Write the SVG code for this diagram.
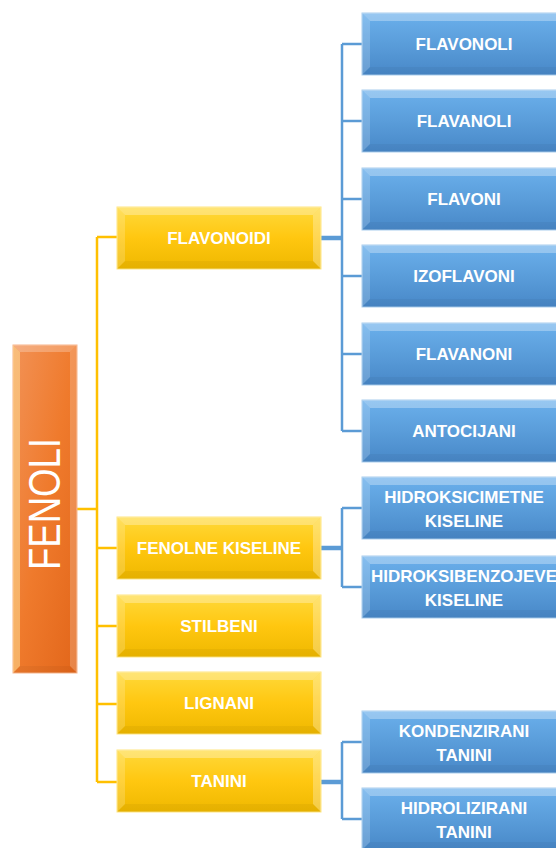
<svg xmlns="http://www.w3.org/2000/svg" xmlns:xlink="http://www.w3.org/1999/xlink" width="556" height="848" viewBox="0 0 556 848">
<defs>
<linearGradient id="gy" x1="0" y1="0" x2="0" y2="1"><stop offset="0" stop-color="#FFD93A"/><stop offset="0.5" stop-color="#FFC710"/><stop offset="1" stop-color="#EFB800"/></linearGradient>
<linearGradient id="gb" x1="0" y1="0" x2="0" y2="1"><stop offset="0" stop-color="#6BB0EC"/><stop offset="0.5" stop-color="#5A9DDA"/><stop offset="1" stop-color="#4888C8"/></linearGradient>
<linearGradient id="go" x1="0" y1="0" x2="1" y2="1"><stop offset="0" stop-color="#F29256"/><stop offset="0.5" stop-color="#EF7A2C"/><stop offset="1" stop-color="#E2661A"/></linearGradient>
<g id="bevel">
<polygon points="0,0 204,0 196,8 8,8" fill="#fff" opacity="0.3"/>
<polygon points="0,0 8,8 8,54 0,62" fill="#fff" opacity="0.18"/>
<polygon points="204,0 204,62 196,54 196,8" fill="#fff" opacity="0.28"/>
<polygon points="0,62 8,54 196,54 204,62" fill="#000" opacity="0.04"/>
</g>
<rect id="ybox" width="204" height="62" fill="url(#gy)" stroke="#FFE680" stroke-width="1"/>
<rect id="bbox" width="204" height="62" fill="url(#gb)" stroke="#A9CDEE" stroke-width="1"/>
</defs>
<style>
.t{font-family:"Liberation Sans",Arial,sans-serif;font-weight:bold;font-size:17px;fill:#fff;text-anchor:middle}
.cy{stroke:#FFC000;stroke-width:2.5;fill:none}
.cb{stroke:#5B9BD5;stroke-width:2.5;fill:none}
.cbt{stroke:#5B9BD5;stroke-width:4.5;fill:none}
</style>
<g id="connectors">
<path class="cy" d="M77,509 H97 M97,237 V782 M97,237 H117 M97,548 H117 M97,626 H117 M97,704 H117 M97,782 H117"/>
<path class="cbt" d="M321,238 H342 M321,548 H342 M321,782 H342"/>
<path class="cb" d="M342,44 V431 M342,44 H362 M342,121 H362 M342,199 H362 M342,276 H362 M342,354 H362 M342,431 H362"/>
<path class="cb" d="M342,508 V587 M342,508 H362 M342,587 H362"/>
<path class="cb" d="M342,742 V819 M342,742 H362 M342,819 H362"/>
</g>
<g id="fenoli">
<rect x="13" y="345" width="64" height="328" fill="url(#go)" stroke="#F7B48A" stroke-width="1"/>
<polygon points="13,345 77,345 70,352 20,352" fill="#fff" opacity="0.25"/>
<polygon points="13,345 20,352 20,666 13,673" fill="#FFE7A0" opacity="0.5"/>
<polygon points="77,345 77,673 70,666 70,352" fill="#fff" opacity="0.2"/>
<polygon points="13,673 20,666 70,666 77,673" fill="#000" opacity="0.04"/>
<text transform="translate(60,504) rotate(-90)" font-family="Liberation Sans,Arial,sans-serif" font-size="44" fill="#fff" text-anchor="middle" textLength="132" lengthAdjust="spacingAndGlyphs">FENOLI</text>
</g>
<g id="flavonoidi" transform="translate(117,207)"><use xlink:href="#ybox"/><use xlink:href="#bevel"/><text class="t" x="102" y="37">FLAVONOIDI</text></g>
<g id="fenolne" transform="translate(117,517)"><use xlink:href="#ybox"/><use xlink:href="#bevel"/><text class="t" x="102" y="37">FENOLNE KISELINE</text></g>
<g id="stilbeni" transform="translate(117,595)"><use xlink:href="#ybox"/><use xlink:href="#bevel"/><text class="t" x="102" y="37">STILBENI</text></g>
<g id="lignani" transform="translate(117,672)"><use xlink:href="#ybox"/><use xlink:href="#bevel"/><text class="t" x="102" y="37">LIGNANI</text></g>
<g id="tanini" transform="translate(117,750)"><use xlink:href="#ybox"/><use xlink:href="#bevel"/><text class="t" x="102" y="37">TANINI</text></g>
<g id="flavonoli" transform="translate(362,13)"><use xlink:href="#bbox"/><use xlink:href="#bevel"/><text class="t" x="102" y="37">FLAVONOLI</text></g>
<g id="flavanoli" transform="translate(362,90)"><use xlink:href="#bbox"/><use xlink:href="#bevel"/><text class="t" x="102" y="37">FLAVANOLI</text></g>
<g id="flavoni" transform="translate(362,168)"><use xlink:href="#bbox"/><use xlink:href="#bevel"/><text class="t" x="102" y="37">FLAVONI</text></g>
<g id="izoflavoni" transform="translate(362,245)"><use xlink:href="#bbox"/><use xlink:href="#bevel"/><text class="t" x="102" y="37">IZOFLAVONI</text></g>
<g id="flavanoni" transform="translate(362,323)"><use xlink:href="#bbox"/><use xlink:href="#bevel"/><text class="t" x="102" y="37">FLAVANONI</text></g>
<g id="antocijani" transform="translate(362,400)"><use xlink:href="#bbox"/><use xlink:href="#bevel"/><text class="t" x="102" y="37">ANTOCIJANI</text></g>
<g id="hidroksicimetne" transform="translate(362,477)"><use xlink:href="#bbox"/><use xlink:href="#bevel"/><text class="t" x="102" y="26">HIDROKSICIMETNE</text><text class="t" x="102" y="50">KISELINE</text></g>
<g id="hidroksibenzojeve" transform="translate(362,556)"><use xlink:href="#bbox"/><use xlink:href="#bevel"/><text class="t" x="102" y="26">HIDROKSIBENZOJEVE</text><text class="t" x="102" y="50">KISELINE</text></g>
<g id="kondenzirani" transform="translate(362,711)"><use xlink:href="#bbox"/><use xlink:href="#bevel"/><text class="t" x="102" y="26">KONDENZIRANI</text><text class="t" x="102" y="50">TANINI</text></g>
<g id="hidrolizirani" transform="translate(362,788)"><use xlink:href="#bbox"/><use xlink:href="#bevel"/><text class="t" x="102" y="26">HIDROLIZIRANI</text><text class="t" x="102" y="50">TANINI</text></g>
</svg>
